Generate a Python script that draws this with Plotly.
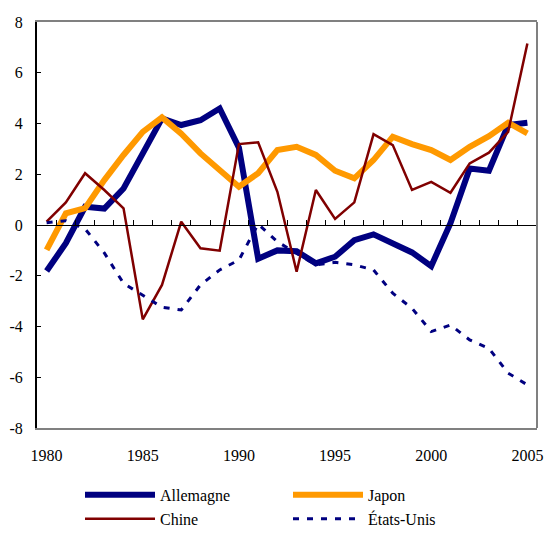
import plotly.graph_objects as go

years = list(range(1980, 2006))
allemagne = [-1.81, -0.72, 0.72, 0.65, 1.44, 2.8, 4.2, 3.94, 4.13, 4.59, 3.05, -1.33,
             -1.0, -1.03, -1.51, -1.25, -0.6, -0.37, -0.7, -1.08, -1.62, 0.07,
             2.23, 2.14, 3.94, 4.03]
japon = [-0.98, 0.46, 0.66, 1.77, 2.76, 3.67, 4.24, 3.6, 2.82, 2.17, 1.51, 2.04,
         2.95, 3.08, 2.76, 2.14, 1.84, 2.56, 3.48, 3.19, 2.95, 2.56,
         3.08, 3.5, 4.03, 3.61]
chine = [0.13, 0.89, 2.04, 1.38, 0.66, -3.72, -2.36, 0.13, -0.92, -1.01, 3.19, 3.26,
         1.31, -1.84, 1.38, 0.24, 0.89, 3.58, 3.15, 1.38, 1.7, 1.27,
         2.43, 2.85, 3.67, 7.15]
etats_unis = [0.09, 0.17, -0.15, -1.1, -2.3, -2.76, -3.24, -3.35, -2.36, -1.77, -1.38, 0.04,
              -0.66, -1.12, -1.57, -1.47, -1.57, -1.77, -2.69, -3.28, -4.2, -3.94,
              -4.53, -4.86, -5.84, -6.3]
x_tick_labels = [1980, 1985, 1990, 1995, 2000, 2005]
y_ticks = [-8, -6, -4, -2, 0, 2, 4, 6, 8]
boundaries = [y + 0.5 for y in years[:-1]]

NAVY = "#000080"
ORANGE = "#FF9900"
RED = "#800000"
FONT = "Liberation Serif, Liberation Sans, Arial, sans-serif"
X_RANGE = [1979.5, 2005.5]

fig = go.Figure()
fig.add_trace(go.Scatter(x=years, y=allemagne, name="Allemagne", mode="lines",
                         line=dict(color=NAVY, width=6)))
fig.add_trace(go.Scatter(x=years, y=japon, name="Japon", mode="lines",
                         line=dict(color=ORANGE, width=6)))
fig.add_trace(go.Scatter(x=years, y=chine, name="Chine", mode="lines",
                         line=dict(color=RED, width=2.5)))
fig.add_trace(go.Scatter(x=years, y=etats_unis, name="États-Unis", mode="lines",
                         line=dict(color=NAVY, width=3, dash="6px,8px")))
# helper trace for the zero axis with tick marks
fig.add_trace(go.Scatter(x=[years[0]], y=[0], xaxis="x2", mode="markers",
                         marker=dict(opacity=0), showlegend=False, hoverinfo="skip"))

fig.update_layout(
    width=544, height=533,
    margin=dict(l=37, r=7, t=22, b=105, autoexpand=False),
    paper_bgcolor="white", plot_bgcolor="white",
    font=dict(family=FONT, size=16, color="black"),
    showlegend=True,
    legend=dict(orientation="h", x=0.086, y=-0.123, xanchor="left", yanchor="top",
                entrywidth=123, entrywidthmode="pixels", itemwidth=70,
                font=dict(family=FONT, size=16), tracegroupgap=0,
                bgcolor="rgba(0,0,0,0)"),
    xaxis=dict(range=X_RANGE, autorange=False, tickvals=x_tick_labels, ticks="",
               showgrid=False, zeroline=False, showline=True, linecolor="#808080",
               linewidth=2, mirror=True, ticklabelstandoff=12, ticklabeloverflow="allow"),
    xaxis2=dict(overlaying="x", range=X_RANGE, autorange=False, anchor="free", position=0.5,
                tickvals=boundaries, ticks="inside", ticklen=5, tickcolor="black",
                tickwidth=1, showticklabels=False, showline=True, linecolor="black",
                linewidth=1, showgrid=False, zeroline=False),
    yaxis=dict(range=[-8, 8], autorange=False, tickvals=y_ticks,
               ticktext=[str(v) for v in y_ticks],
               ticks="inside", ticklen=4, tickcolor="black", showgrid=False,
               zeroline=False, showline=True, linecolor="black", linewidth=2,
               ticklabelstandoff=9),
    shapes=[dict(type="line", xref="paper", yref="paper", x0=1, x1=1, y0=0, y1=1,
                 line=dict(color="#808080", width=2))],
)

fig.write_html("out.html", config={"displayModeBar": False},
               post_script="document.body.style.margin='0';document.body.style.overflow='hidden';")
